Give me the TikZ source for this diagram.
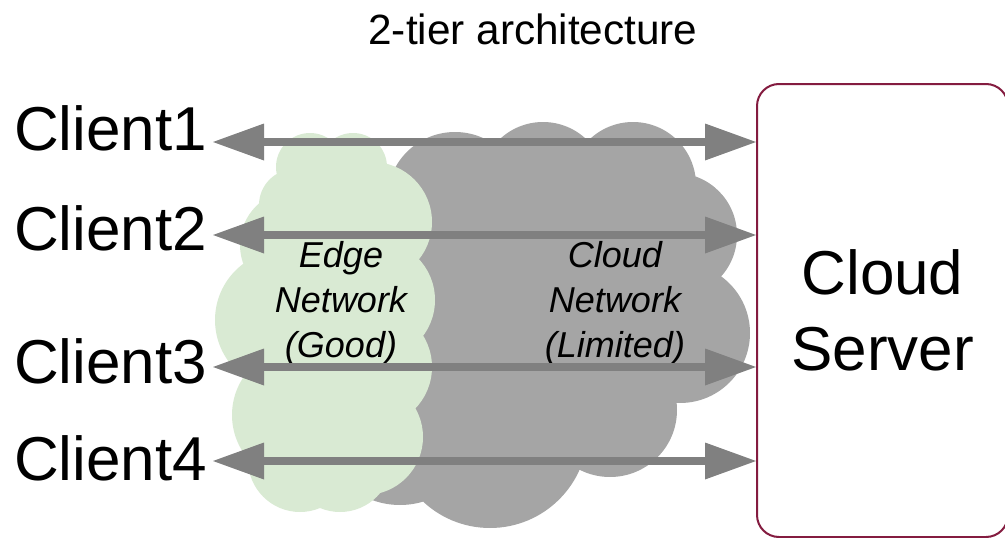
\documentclass[tikz,border=0pt]{standalone}
\usepackage{fontspec}
\setmainfont{Liberation Sans}
\usetikzlibrary{arrows.meta}

\definecolor{cloudgray}{RGB}{165,165,165}
\definecolor{edgegreen}{RGB}{217,234,211}
\definecolor{linkgray}{RGB}{128,128,128}
\definecolor{serverred}{RGB}{132,28,64}

\begin{document}
\begin{tikzpicture}[x=1pt, y=-1pt,
  >={Triangle[length=51pt, width=37pt, line width=0pt]},
  bigtext/.style={font=\fontsize{62}{76}\selectfont, inner sep=0pt},
  client/.style={bigtext, anchor=base west},
  nettext/.style={font=\fontsize{36}{45}\selectfont\itshape, align=center, inner sep=0pt},
  link/.style={draw=linkgray, line width=7.5pt, <->},
  serverbox/.style={bigtext, draw=serverred, line width=2pt, rounded corners=22pt,
    minimum width=251pt, minimum height=453pt, align=center, fill=white}]

\useasboundingbox (0,0) rectangle (1005,538);

% title
\node[font=\fontsize{42.3}{50}\selectfont, anchor=base, inner sep=0pt] (title) at (533,45) {2-tier architecture};

% cloud network (grey)
\fill[cloudgray]
  (455,200) circle (68pt)
  (543,185) circle (63pt)
  (633,185) circle (63pt)
  (675,235) circle (62pt)
  (680,333) circle (70pt)
  (610,410) circle (67pt)
  (490,430) circle (98pt)
  (400,425) circle (80pt);
\fill[cloudgray] (400,200) rectangle (680,400);

% edge network (green)
\fill[edgegreen]
  (310,167) circle (34pt)
  (353,167) circle (34pt)
  (295,205) circle (36pt)
  (372,222) circle (60pt)
  (375,300) circle (60pt)
  (372,367) circle (60pt)
  (365,437) circle (58pt)
  (340,460) circle (52pt)
  (295,245) circle (55pt)
  (285,320) circle (70pt)
  (300,415) circle (68pt)
  (300,460) circle (52pt);
\fill[edgegreen] (290,190) rectangle (380,470);

% network labels
\node[nettext] (edge) at (341,303) {Edge\\Network\\(Good)};
\node[nettext] (cloud) at (615,303) {Cloud\\Network\\(Limited)};

% clients
\node[client] (c1) at (14,150) {Client1};
\node[client] (c2) at (14,250) {Client2};
\node[client] (c3) at (14,383) {Client3};
\node[client] (c4) at (14,480) {Client4};

% server
\node[serverbox] (srv) at (882.5,310.5) {Cloud\\Server};

% links between clients and server
\coordinate (a1) at (213,142);
\coordinate (a2) at (213,235);
\coordinate (a3) at (213,367);
\coordinate (a4) at (213,461);
\foreach \i in {1,...,4}
  \draw[link] (a\i) -- (a\i -| srv.west);
\end{tikzpicture}
\end{document}
